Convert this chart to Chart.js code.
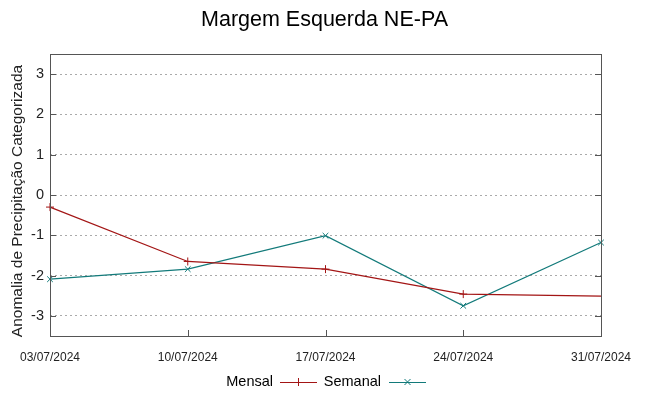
<!DOCTYPE html>
<html>
<head>
<meta charset="utf-8">
<script src="https://cdn.jsdelivr.net/npm/chart.js@4"></script>
<style>
  html, body { margin: 0; padding: 0; background: #fff; }
  #wrap { width: 649px; height: 396px; position: relative; }
</style>
</head>
<body>
<div id="wrap"><canvas id="chart"></canvas></div>
<script>
// dados
const datas = ['03/07/2024', '10/07/2024', '17/07/2024', '24/07/2024', '31/07/2024'];
const mensal = [-0.3, -1.65, -1.84, -2.46, -2.51];
const semanal = [-2.09, -1.84, -1.01, -2.75, -1.18];
const yTicks = [-3, -2, -1, 0, 1, 2, 3];

const corMensal = '#a31515';
const corSemanal = '#127a7a';
const fonte = '"Liberation Sans", Arial, sans-serif';

// título, rótulo do eixo y, moldura, ticks internos e legenda no estilo gnuplot
const gnuplotStyle = {
    id: 'gnuplotStyle',
    afterDraw(chart) {
        const ctx = chart.ctx;
        const a = chart.chartArea;
        const x = chart.scales.x;
        const y = chart.scales.y;
        ctx.save();

        // título
        ctx.fillStyle = '#000';
        ctx.font = '21.5px ' + fonte;
        ctx.textAlign = 'center';
        ctx.textBaseline = 'middle';
        ctx.fillText('Margem Esquerda NE-PA', chart.width / 2, 20);

        // rótulo do eixo y
        ctx.save();
        ctx.translate(18, 201);
        ctx.rotate(-Math.PI / 2);
        ctx.fillStyle = '#222';
        ctx.font = '15.5px ' + fonte;
        ctx.fillText('Anomalia de Precipitação Categorizada', 0, 0);
        ctx.restore();

        // moldura
        ctx.strokeStyle = '#555';
        ctx.lineWidth = 1;
        ctx.strokeRect(Math.round(a.left) + 0.5, Math.round(a.top) + 0.5,
            Math.round(a.right - a.left), Math.round(a.bottom - a.top));

        // ticks para dentro
        ctx.beginPath();
        yTicks.forEach(v => {
            const py = Math.round(y.getPixelForValue(v)) + 0.5;
            ctx.moveTo(a.left, py); ctx.lineTo(a.left + 6, py);
            ctx.moveTo(a.right, py); ctx.lineTo(a.right - 6, py);
        });
        datas.forEach((d, i) => {
            const px = Math.round(x.getPixelForValue(i)) + 0.5;
            ctx.moveTo(px, a.bottom); ctx.lineTo(px, a.bottom - 6);
        });
        ctx.stroke();

        // legenda
        const ly = 382;
        ctx.font = '14.5px ' + fonte;
        ctx.textBaseline = 'middle';
        ctx.textAlign = 'right';
        ctx.fillStyle = '#000';
        ctx.fillText('Mensal', 273, ly);
        ctx.fillText('Semanal', 381, ly);

        const amostra = (x0, cor, estilo) => {
            ctx.strokeStyle = cor;
            ctx.lineWidth = 1;
            ctx.beginPath();
            ctx.moveTo(x0, ly + 0.5); ctx.lineTo(x0 + 37, ly + 0.5);
            const cx = x0 + 18.5;
            if (estilo === 'cross') {
                ctx.moveTo(cx, ly - 4); ctx.lineTo(cx, ly + 4);
            } else {
                ctx.moveTo(cx - 3, ly - 3); ctx.lineTo(cx + 3, ly + 3);
                ctx.moveTo(cx - 3, ly + 3); ctx.lineTo(cx + 3, ly - 3);
            }
            ctx.stroke();
        };
        amostra(280, corMensal, 'cross');
        amostra(389, corSemanal, 'crossRot');
        ctx.restore();
    }
};

new Chart(document.getElementById('chart'), {
    type: 'line',
    data: {
        labels: datas,
        datasets: [{
            label: 'Mensal',
            data: mensal,
            borderColor: corMensal,
            backgroundColor: corMensal,
            borderWidth: 1.2,
            pointStyle: 'cross',
            pointRadius: [4, 4, 4, 4, 0],
            pointBorderWidth: 1,
            tension: 0,
            clip: false
        }, {
            label: 'Semanal',
            data: semanal,
            borderColor: corSemanal,
            backgroundColor: corSemanal,
            borderWidth: 1.2,
            pointStyle: 'crossRot',
            pointRadius: 4,
            pointBorderWidth: 1,
            tension: 0,
            clip: false
        }]
    },
    options: {
        responsive: true,
        maintainAspectRatio: false,
        animation: false,
        layout: { padding: { top: 54, right: 48, left: 0, bottom: 0 } },
        plugins: {
            legend: { display: false },
            tooltip: { enabled: false }
        },
        scales: {
            x: {
                type: 'category',
                offset: false,
                grid: { display: false, drawTicks: false },
                border: { display: false },
                ticks: {
                    color: '#222',
                    font: { family: fonte, size: 12 },
                    maxRotation: 0,
                    autoSkip: false,
                    padding: 14
                },
                afterFit(scale) { scale.height = 60; }
            },
            y: {
                min: -3.5,
                max: 3.5,
                afterBuildTicks(scale) {
                    scale.ticks = yTicks.map(v => ({ value: v }));
                },
                grid: {
                    color: '#aaa',
                    lineWidth: 1,
                    drawTicks: false
                },
                border: { display: false, dash: [2, 3] },
                ticks: {
                    color: '#222',
                    font: { family: fonte, size: 14.5 },
                    padding: 6
                },
                afterFit(scale) { scale.width = 50; }
            }
        }
    },
    plugins: [gnuplotStyle]
});
</script>
</body>
</html>
